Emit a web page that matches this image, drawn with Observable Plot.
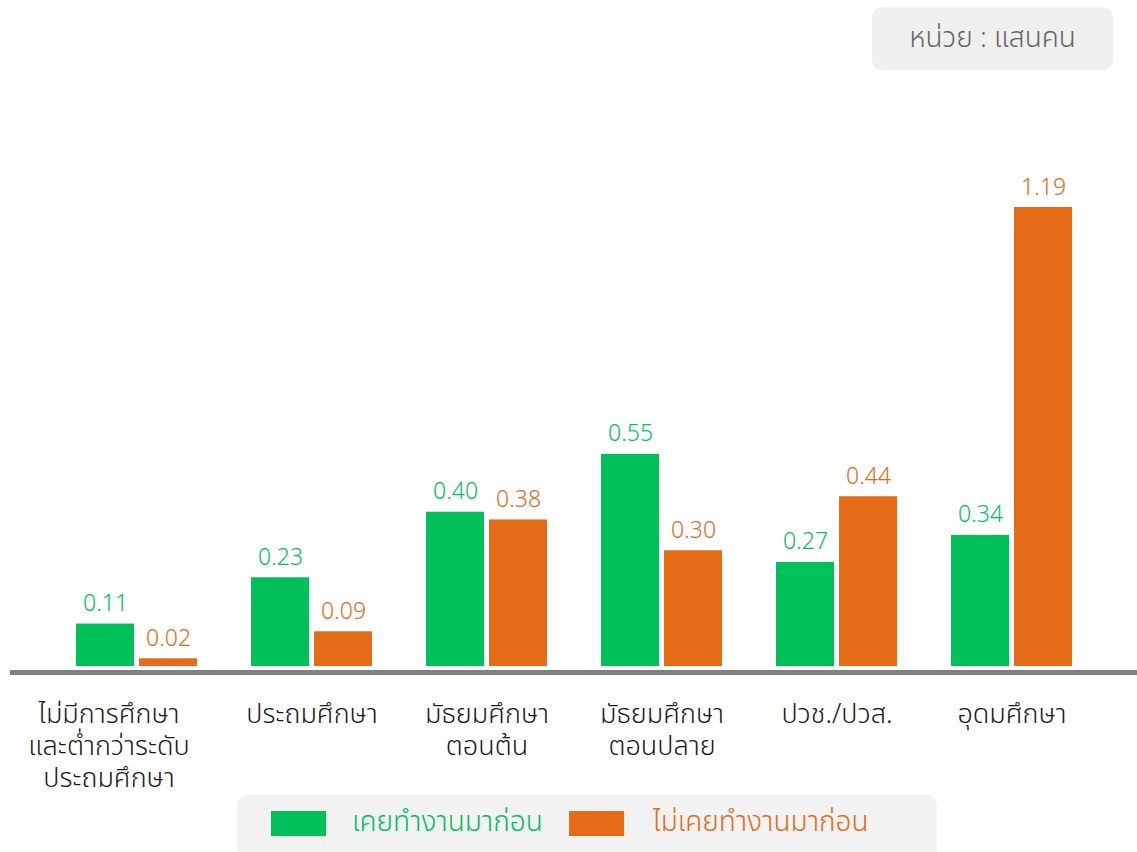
<!DOCTYPE html>
<html>
<head>
<meta charset="utf-8">
<script src="https://cdn.jsdelivr.net/npm/d3@7"></script>
<script src="https://cdn.jsdelivr.net/npm/@observablehq/plot@0.6"></script>
<style>
  html, body { margin: 0; padding: 0; background: #fff; }
  body { font-family: "Noto Sans Thai", "Noto Sans", Lato, sans-serif; }
  #wrap { position: relative; width: 1137px; height: 852px; overflow: hidden; }
  #chart { position: absolute; left: 0; top: 0; }
  .unit { position: absolute; left: 872px; top: 7px; width: 241px; height: 63px; background: #f0f0f0; border-radius: 10px;
          color: #666; font-size: 28px; font-weight: 300; display: flex; align-items: center; justify-content: center; }
  .legend { position: absolute; left: 237px; top: 795px; width: 700px; height: 80px; background: #f2f2f2; border-radius: 10px; }
  .sw { position: absolute; top: 16px; width: 55px; height: 25px; }
  .lt { position: absolute; top: 8px; font-size: 28px; font-weight: 300; line-height: 40px; white-space: nowrap; }
</style>
</head>
<body>
<div id="wrap">
  <div id="chart"></div>
  <div class="unit">หน่วย : แสนคน</div>
  <div class="legend" id="legend"></div>
</div>
<script>
const categories = ["ไม่มีการศึกษา\nและต่ำกว่าระดับ\nประถมศึกษา", "ประถมศึกษา", "มัธยมศึกษา\nตอนต้น", "มัธยมศึกษา\nตอนปลาย", "ปวช./ปวส.", "อุดมศึกษา"];
const seriesNames = ["เคยทำงานมาก่อน", "ไม่เคยทำงานมาก่อน"];
const worked = [0.11, 0.23, 0.40, 0.55, 0.27, 0.34];
const neverWorked = [0.02, 0.09, 0.38, 0.30, 0.44, 1.19];
const colors = ["#00c05a", "#e56b17"];

const rowsA = categories.map((c, i) => ({category: c, value: worked[i]}));
const rowsB = categories.map((c, i) => ({category: c, value: neverWorked[i]}));
const fmt = d3.format(".2f");
const labelFont = 27;

const chart = Plot.plot({
  width: 1137,
  height: 800,
  marginLeft: 10,
  marginRight: 0,
  marginTop: 207,
  marginBottom: 134,
  style: {fontFamily: '"Noto Sans Thai", "Noto Sans", Lato, sans-serif', background: "transparent", fontWeight: 300},
  x: {domain: categories, paddingInner: 0.309, paddingOuter: 0.37, axis: null},
  y: {domain: [0, 1.19], axis: null},
  marks: [
    Plot.barY(rowsA, {x: "category", y: "value", fill: colors[0], insetRight: 63}),
    Plot.barY(rowsB, {x: "category", y: "value", fill: colors[1], insetLeft: 63}),
    Plot.text(rowsA, {x: "category", y: "value", text: d => fmt(d.value), fill: colors[0], dx: -31.5, dy: -13, lineAnchor: "bottom", fontSize: 23}),
    Plot.text(rowsB, {x: "category", y: "value", text: d => fmt(d.value), fill: colors[1], dx: 31.5, dy: -13, lineAnchor: "bottom", fontSize: 23}),
    Plot.ruleY([0], {stroke: "#808080", strokeWidth: 5, dy: 6}),
    Plot.text(categories.slice(0, 1), {x: d => d, text: d => d, frameAnchor: "bottom", lineAnchor: "top", dy: 34, dx: -28, fontSize: labelFont, lineHeight: 32 / labelFont, fill: "#1a1a1a"}),
    Plot.text(categories.slice(1), {x: d => d, text: d => d, frameAnchor: "bottom", lineAnchor: "top", dy: 34, fontSize: labelFont, lineHeight: 32 / labelFont, fill: "#1a1a1a"})
  ]
});
document.getElementById("chart").appendChild(chart);

const legend = document.getElementById("legend");
const swX = [34, 332];
const txX = [115, 416];
seriesNames.forEach((name, i) => {
  const sw = document.createElement("div");
  sw.className = "sw";
  sw.style.left = swX[i] + "px";
  sw.style.background = colors[i];
  legend.appendChild(sw);
  const t = document.createElement("div");
  t.className = "lt";
  t.style.left = txX[i] + "px";
  t.style.color = colors[i];
  t.textContent = name;
  legend.appendChild(t);
});
</script>
</body>
</html>
